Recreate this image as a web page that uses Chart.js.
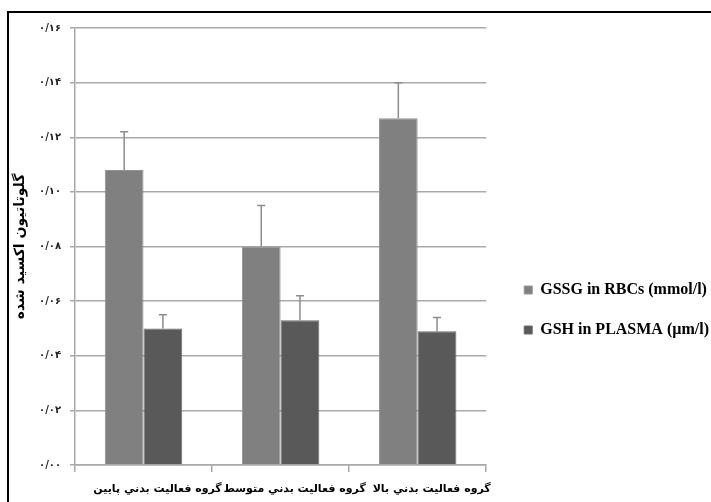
<!DOCTYPE html>
<html>
<head>
<meta charset="utf-8">
<script src="https://cdn.jsdelivr.net/npm/chart.js@4.4.1/dist/chart.umd.min.js"></script>
<style>
  html, body { margin: 0; padding: 0; background: #fff; overflow: hidden; width: 711px; height: 502px; }
  #frame { position: absolute; left: 7px; top: 11px; width: 760px; height: 540px; border: 2px solid #000; background: #fff; }
  #frame canvas { display: block; }
</style>
</head>
<body>
<div id="frame"><canvas id="chart" width="710" height="500"></canvas></div>
<script>
// Activity groups (x categories)
const groups = ['گروه فعاليت بدني پايين', 'گروه فعاليت بدني متوسط', 'گروه فعاليت بدني بالا'];

// Oxidised glutathione in red blood cells, mean and SD
const gssgRbc = [0.108, 0.080, 0.127];
const gssgRbcErr = [0.014, 0.015, 0.013];

// Glutathione in plasma, mean and SD
const gshPlasma = [0.050, 0.053, 0.049];
const gshPlasmaErr = [0.005, 0.009, 0.005];

// Value-axis labels in Persian digits
const yTickLabels = ['۰/۰۰', '۰/۰۲', '۰/۰۴', '۰/۰۶', '۰/۰۸', '۰/۱۰', '۰/۱۲', '۰/۱۴', '۰/۱۶'];

const seriesNames = ['GSSG in RBCs (mmol/l)', 'GSH in PLASMA (µm/l)'];
const yTitle = 'گلوتاتيون اكسيد شده';

const AXIS_GREY = '#a9a9a9';

// Upper whiskers (mean + SD) drawn over each bar
const errorBarsPlugin = {
  id: 'errorBars',
  afterDatasetsDraw(chart) {
    const { ctx } = chart;
    const yScale = chart.scales.y;
    chart.data.datasets.forEach((ds, di) => {
      const meta = chart.getDatasetMeta(di);
      if (!ds.errorValues) return;
      meta.data.forEach((bar, i) => {
        const top = yScale.getPixelForValue(ds.data[i] + ds.errorValues[i]);
        ctx.save();
        ctx.strokeStyle = '#8c8c8c';
        ctx.lineWidth = 1.5;
        ctx.beginPath();
        ctx.moveTo(bar.x, bar.y);
        ctx.lineTo(bar.x, top);
        ctx.moveTo(bar.x - 4, top);
        ctx.lineTo(bar.x + 4, top);
        ctx.stroke();
        ctx.restore();
      });
    });
  }
};

new Chart(document.getElementById('chart'), {
  type: 'bar',
  data: {
    labels: groups,
    datasets: [
      {
        label: seriesNames[0],
        data: gssgRbc,
        errorValues: gssgRbcErr,
        backgroundColor: '#808080',
        borderColor: '#939393',
        borderWidth: 1,
        categoryPercentage: 0.565,
        barPercentage: 1.0
      },
      {
        label: seriesNames[1],
        data: gshPlasma,
        errorValues: gshPlasmaErr,
        backgroundColor: '#595959',
        borderColor: '#6a6a6a',
        borderWidth: 1,
        categoryPercentage: 0.565,
        barPercentage: 1.0
      }
    ]
  },
  options: {
    responsive: false,
    animation: false,
    events: [],
    layout: { padding: { top: 15, left: 0, right: 0, bottom: 0 } },
    plugins: {
      tooltip: { enabled: false },
      legend: {
        position: 'right',
        align: 'start',
        maxWidth: 300,
        title: { display: true, text: '', padding: { top: 218, bottom: 0 }, font: { size: 10 } },
        labels: {
          boxWidth: 8,
          boxHeight: 8,
          padding: 24,
          color: '#000',
          font: { family: '"Liberation Serif", "Times New Roman", serif', size: 16, weight: 'bold' }
        }
      }
    },
    scales: {
      x: {
        type: 'category',
        offset: true,
        afterFit(scale) { scale.height = 48; },
        grid: {
          offset: true,
          drawOnChartArea: false,
          drawTicks: true,
          tickLength: 7,
          color: AXIS_GREY,
          lineWidth: 1.5
        },
        border: { display: true, color: AXIS_GREY, width: 1.5 },
        ticks: {
          color: '#000',
          padding: 11,
          labelOffset: 14,
          autoSkip: false,
          maxRotation: 0,
          minRotation: 0,
          font: { family: '"DejaVu Sans", sans-serif', size: 11, weight: 'bold' }
        }
      },
      y: {
        type: 'linear',
        min: 0,
        max: 0.16,
        afterFit(scale) { scale.width = 66; },
        grid: {
          color: AXIS_GREY,
          lineWidth: 1.5,
          drawTicks: true,
          tickLength: 5
        },
        border: { display: true, color: AXIS_GREY, width: 1.5 },
        ticks: {
          stepSize: 0.02,
          padding: 9,
          color: '#222',
          font: { family: '"DejaVu Sans", sans-serif', size: 10, weight: 'bold' },
          callback: (value, index) => yTickLabels[index]
        },
        title: {
          display: true,
          text: yTitle,
          color: '#000',
          padding: { top: 3, bottom: 0 },
          font: { family: '"DejaVu Sans", sans-serif', size: 14, weight: 'bold' }
        }
      },
      gap: {
        type: 'linear',
        position: 'right',
        display: true,
        afterFit(scale) { scale.width = 14; },
        grid: { display: false },
        border: { display: false },
        ticks: { display: false }
      }
    }
  },
  plugins: [errorBarsPlugin]
});
</script>
</body>
</html>
